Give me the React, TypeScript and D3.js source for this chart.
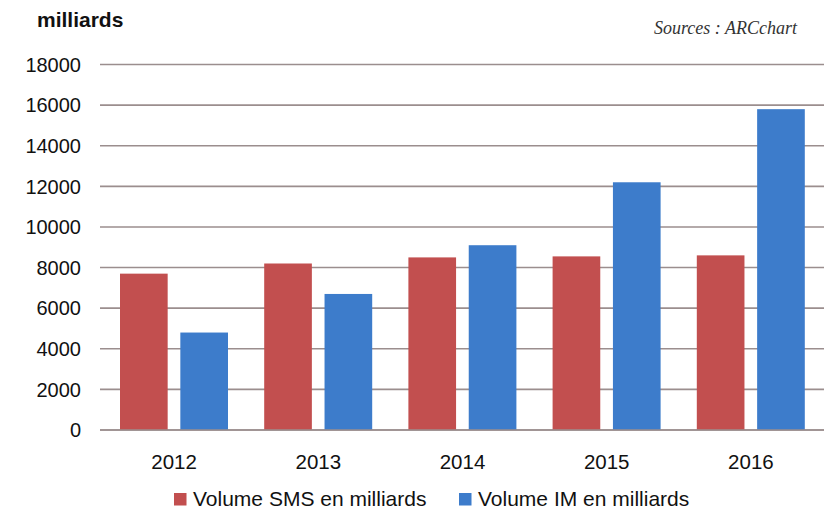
import React from "react";
import * as d3 from "d3";

const years = ["2012", "2013", "2014", "2015", "2016"];
const seriesNames = ["Volume SMS en milliards", "Volume IM en milliards"];
const smsVolume = [7700, 8200, 8500, 8550, 8600];
const imVolume = [4800, 6700, 9100, 12200, 15800];
const yTicks = [0, 2000, 4000, 6000, 8000, 10000, 12000, 14000, 16000, 18000];
const seriesColors = ["#c24f4f", "#3d7ccb"];

const W = 824;
const H = 510;
const plotLeft = 100;
const plotRight = 824;
const yTop = 64.5;
const yBottom = 430;

export default function App() {
  const x = d3.scaleBand<string>().domain(years).range([102, 823]);
  const xs = d3.scaleBand<number>().domain([0, 1]).range([18, 126]).paddingInner(0.21);
  const y = d3.scaleLinear().domain([0, 18000]).range([yBottom, yTop]);
  const values = [smsVolume, imVolume];
  const font = "'Liberation Sans', Arial, Helvetica, sans-serif";
  const legendX = [174, 459];

  return (
    <svg
      width={W}
      height={H}
      viewBox={`0 0 ${W} ${H}`}
      style={{ position: "absolute", left: 0, top: 0, background: "#fff" }}
    >
      <rect x={0} y={0} width={W} height={H} fill="#fff" />
      <text x={37} y={27} fontFamily={font} fontWeight="bold" fontSize={21} fill="#111">
        milliards
      </text>
      <text
        x={797}
        y={34}
        textAnchor="end"
        fontFamily="'Liberation Serif', 'DejaVu Serif', serif"
        fontStyle="italic"
        fontSize={18}
        fill="#333"
      >
        Sources : ARCchart
      </text>

      {yTicks.map((t) => (
        <g key={t}>
          <line
            x1={plotLeft}
            x2={plotRight}
            y1={y(t)}
            y2={y(t)}
            stroke="#9b8e8e"
            strokeWidth={1.6}
          />
          <text
            x={81}
            y={y(t)}
            dy="0.36em"
            textAnchor="end"
            fontFamily={font}
            fontSize={20}
            fill="#111"
          >
            {t}
          </text>
        </g>
      ))}

      {years.map((yr, i) => (
        <g key={yr} transform={`translate(${x(yr)},0)`}>
          {values.map((vals, s) => (
            <rect
              key={s}
              x={xs(s)}
              y={y(vals[i])}
              width={xs.bandwidth()}
              height={yBottom - y(vals[i])}
              fill={seriesColors[s]}
            />
          ))}
          <text
            x={x.bandwidth() / 2}
            y={469}
            textAnchor="middle"
            fontFamily={font}
            fontSize={20.5}
            fill="#111"
          >
            {yr}
          </text>
        </g>
      ))}

      <line x1={plotLeft} x2={plotRight} y1={yBottom} y2={yBottom} stroke="#9b8e8e" strokeWidth={1.6} />

      {seriesNames.map((name, s) => (
        <g key={name}>
          <rect x={legendX[s]} y={493} width={12.5} height={12.5} fill={seriesColors[s]} />
          <text x={legendX[s] + 19} y={506} fontFamily={font} fontSize={21} fill="#111">
            {name}
          </text>
        </g>
      ))}
    </svg>
  );
}
